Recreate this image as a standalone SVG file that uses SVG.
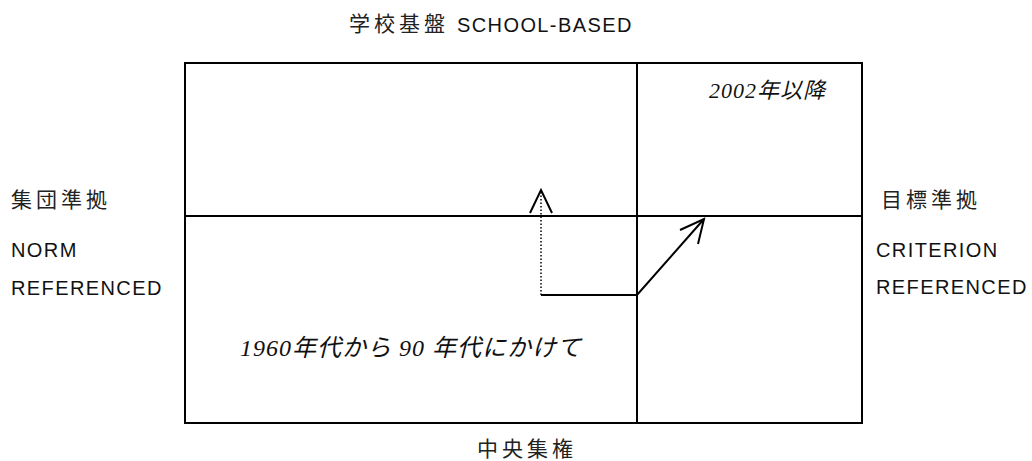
<svg xmlns="http://www.w3.org/2000/svg" width="1032" height="461" viewBox="0 0 1032 461">
<style>
.lbl{font-family:"Liberation Sans","Noto Sans CJK JP",sans-serif;font-size:20px;fill:#111;letter-spacing:1.4px}
.jp{font-family:"Noto Sans CJK JP","Liberation Sans",sans-serif;font-size:21px;fill:#222;letter-spacing:4px}
.it{font-family:"Liberation Serif","Noto Sans CJK JP",serif;font-style:italic;fill:#111}
.ln{stroke:#000;stroke-width:2;fill:none}
</style>
<rect width="1032" height="461" fill="#fff"/>
<g id="frame">
<rect class="ln" x="185" y="63" width="677" height="360"/>
<line class="ln" x1="185" y1="216" x2="862" y2="216"/>
<line class="ln" x1="637" y1="63" x2="637" y2="423"/>
</g>
<g id="labels">
<text class="jp" x="349" y="31" letter-spacing="2">学校基盤</text>
<text class="lbl" x="457" y="32" font-size="21" letter-spacing="1.5">SCHOOL-BASED</text>
<text class="jp" x="11" y="207">集団準拠</text>
<text class="lbl" x="11" y="257">NORM</text>
<text class="lbl" x="11" y="295">REFERENCED</text>
<text class="jp" x="881" y="207">目標準拠</text>
<text class="lbl" x="876" y="257">CRITERION</text>
<text class="lbl" x="876" y="294">REFERENCED</text>
<text class="jp" x="477" y="456">中央集権</text>
<text class="it" x="709" y="98" font-size="22" letter-spacing="1">2002年以降</text>
<text class="it" x="240" y="356" font-size="24" letter-spacing="1">1960年代から 90 年代にかけて</text>
</g>
<g id="connectors">
<line x1="541" y1="295" x2="541" y2="192" stroke="#000" stroke-width="1.5" stroke-dasharray="1.5,2"/>
<polyline class="ln" points="530,213 541,190 552,213"/>
<polyline class="ln" points="541,295 637,295 704,219"/>
<polyline class="ln" points="680,230 704,219 698,244"/>
</g>
</svg>
